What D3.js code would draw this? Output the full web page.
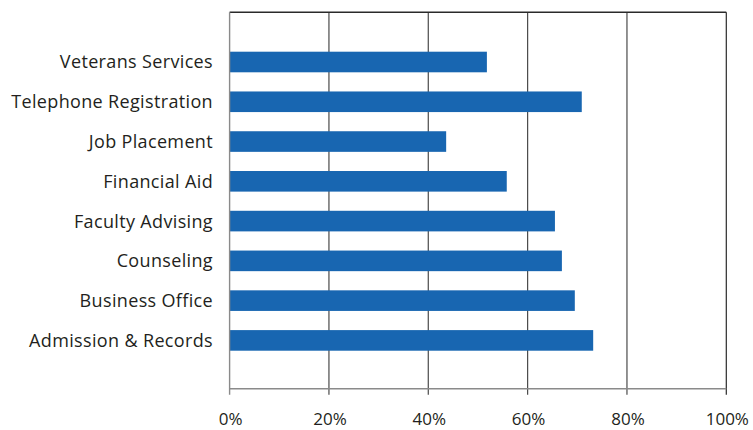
<!DOCTYPE html>
<html>
<head>
<meta charset="utf-8">
<script src="https://cdn.jsdelivr.net/npm/d3@7"></script>
<style>
  html, body { margin: 0; padding: 0; background: #fff; }
  svg { display: block; }
  text { font-family: "Open Sans", "Noto Sans", sans-serif; fill: #231f20; }
</style>
</head>
<body>
<svg id="chart" width="753" height="430"></svg>
<script>
const categories = ["Veterans Services", "Telephone Registration", "Job Placement", "Financial Aid",
  "Faculty Advising", "Counseling", "Business Office", "Admission & Records"];
const values = [51.8, 70.9, 43.6, 55.8, 65.5, 66.9, 69.5, 73.2];
const tickValues = [0, 20, 40, 60, 80, 100];
const tickLabels = ["0%", "20%", "40%", "60%", "80%", "100%"];

const svg = d3.select("#chart");
const plotLeft = 229.6, plotRight = 726.3, plotTop = 12.3, plotBottom = 388.7;

const x = d3.scaleLinear().domain([0, 100]).range([plotLeft, plotRight]);
const y = d3.scaleBand().domain(categories).range([plotTop + 0.7, plotBottom + 0.7])
  .paddingInner(0.482).paddingOuter(0.973);

// gridlines (with small tick extensions below the axis)
svg.append("g").selectAll("line").data(tickValues.slice(1)).join("line")
  .attr("x1", d => x(d)).attr("x2", d => x(d))
  .attr("y1", plotTop).attr("y2", plotBottom + 6)
  .attr("stroke", d => d === 100 ? "#2a2a2a" : "#4a4a4a").attr("stroke-width", 1.2);

// top border
svg.append("line").attr("x1", plotLeft).attr("x2", plotRight).attr("y1", plotTop).attr("y2", plotTop)
  .attr("stroke", "#2a2a2a").attr("stroke-width", 1.4);

// bars
svg.append("g").selectAll("rect").data(values).join("rect")
  .attr("x", x(0))
  .attr("y", (d, i) => y(categories[i]))
  .attr("width", d => x(d) - x(0))
  .attr("height", y.bandwidth())
  .attr("fill", "#1866b1");

// left axis line and bottom axis line
svg.append("line").attr("x1", plotLeft).attr("x2", plotLeft).attr("y1", plotTop).attr("y2", plotBottom + 6)
  .attr("stroke", "#8a8a8a").attr("stroke-width", 1.4);
svg.append("line").attr("x1", plotLeft).attr("x2", plotRight).attr("y1", plotBottom).attr("y2", plotBottom)
  .attr("stroke", "#8a8a8a").attr("stroke-width", 1.4);

// category labels
svg.append("g").selectAll("text").data(categories).join("text")
  .attr("x", 213)
  .attr("y", d => y(d) + y.bandwidth() / 2)
  .attr("dy", "0.36em")
  .attr("text-anchor", "end")
  .attr("font-size", 18)
  .attr("letter-spacing", 0.35)
  .text(d => d);

// x tick labels
svg.append("g").selectAll("text").data(tickValues).join("text")
  .attr("x", d => x(d) + 1)
  .attr("y", 424.5)
  .attr("text-anchor", "middle")
  .attr("font-size", 17)
  .text((d, i) => tickLabels[i]);
</script>
</body>
</html>
